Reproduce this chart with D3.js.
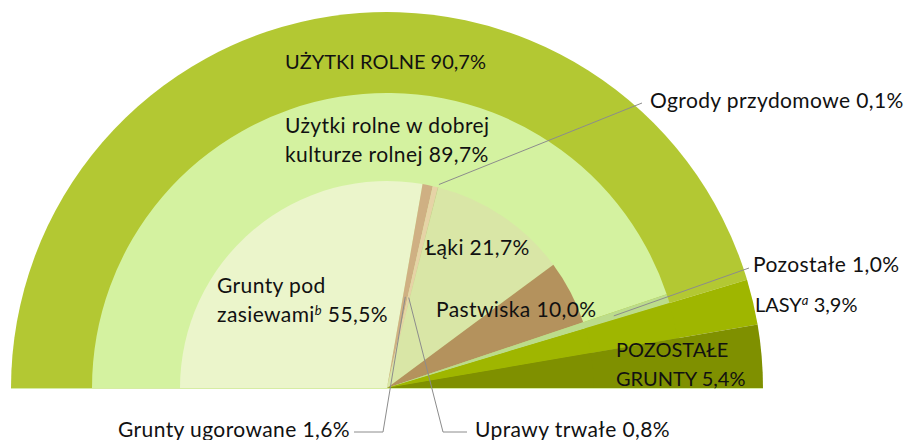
<!DOCTYPE html>
<html lang="pl">
<head>
<meta charset="UTF-8">
<title>Struktura użytkowania gruntów</title>
<script src="https://d3js.org/d3.v7.min.js"></script>
<style>
  body { margin: 0; background: #fff; }
  svg text { font-family: Lato, "Open Sans", sans-serif; font-size: 21px; letter-spacing: 0.4px; fill: #111; }
  svg text.caps { font-size: 20px; letter-spacing: 0; }
</style>
</head>
<body>
<svg width="908" height="440"></svg>
<script>
// dane - kolejne pierścienie (od lewej do prawej)
const outerNames = ["UŻYTKI ROLNE", "LASY", "POZOSTAŁE GRUNTY"];
const outerValues = [90.7, 3.9, 5.4];

const middleNames = ["Użytki rolne w dobrej kulturze rolnej", "Pozostałe", "LASY", "POZOSTAŁE GRUNTY"];
const middleValues = [89.7, 1.0, 3.9, 5.4];

const innerNames = ["Grunty pod zasiewami", "Grunty ugorowane", "Uprawy trwałe", "Ogrody przydomowe",
                    "Łąki", "Pastwiska", "Pozostałe", "LASY", "POZOSTAŁE GRUNTY"];
const innerValues = [55.5, 1.6, 0.8, 0.1, 21.7, 10.0, 1.0, 3.9, 5.4];

const colors = {
  "UŻYTKI ROLNE": "#b3c833",
  "LASY": "#9fb600",
  "POZOSTAŁE GRUNTY": "#7f9000",
  "Użytki rolne w dobrej kulturze rolnej": "#d4f2a0",
  "Pozostałe": "#bcdc8b",
  "Grunty pod zasiewami": "#ebf5cb",
  "Grunty ugorowane": "#cfb083",
  "Uprawy trwałe": "#e6d3a6",
  "Ogrody przydomowe": "#c9c48e",
  "Łąki": "#d9e6a6",
  "Pastwiska": "#b4925d"
};

const cx = 387, cy = 388;
const rings = [
  { names: outerNames, values: outerValues, r: 376 },
  { names: middleNames, values: middleValues, r: 295 },
  { names: innerNames, values: innerValues, r: 207 }
];

const svg = d3.select("svg");
const g = svg.append("g").attr("transform", `translate(${cx},${cy})`);

const pie = d3.pie().sort(null).startAngle(-Math.PI / 2).endAngle(Math.PI / 2);

const arcsByRing = rings.map(ring => {
  const arcs = pie(ring.values);
  const arc = d3.arc().innerRadius(0).outerRadius(ring.r);
  g.append("g").selectAll("path")
    .data(arcs)
    .join("path")
    .attr("d", arc)
    .attr("fill", (d, i) => colors[ring.names[i]]);
  return arcs;
});

// jasna linia u podstawy
g.append("line")
  .attr("x1", -rings[0].r).attr("x2", rings[0].r)
  .attr("y1", 0.5).attr("y2", 0.5)
  .attr("stroke", "#d6eca4").attr("stroke-width", 1);

// punkt na środku wycinka dla linii odniesienia
function anchor(d, r) {
  const a = (d.startAngle + d.endAngle) / 2;
  return [cx + r * Math.sin(a), cy - r * Math.cos(a)];
}

const inner = arcsByRing[2], middle = arcsByRing[1];
const leaders = [
  { from: anchor(inner[3], 210), pts: [[642, 103]] },
  { from: anchor(middle[1], 238), pts: [[749, 268]] },
  { from: anchor(inner[1], 93), pts: [[383, 432], [354, 432]] },
  { from: anchor(inner[2], 93), pts: [[443, 432], [467, 432]] }
];
svg.append("g").selectAll("path")
  .data(leaders)
  .join("path")
  .attr("d", d => d3.line()([d.from, ...d.pts]))
  .attr("fill", "none")
  .attr("stroke", "#8c8c8c")
  .attr("stroke-width", 1);

// etykiety
const labels = [
  { x: 285, y: 69, caps: true, lines: [["UŻYTKI ROLNE 90,7%"]] },
  { x: 285, y: 133, lines: [["Użytki rolne w dobrej"], ["kulturze rolnej 89,7%"]] },
  { x: 650, y: 108, lines: [["Ogrody przydomowe 0,1%"]] },
  { x: 425, y: 255, lines: [["Łąki 21,7%"]] },
  { x: 436, y: 317, lines: [["Pastwiska 10,0%"]] },
  { x: 217, y: 293, lines: [["Grunty pod"], ["zasiewami", "b", " 55,5%"]] },
  { x: 753, y: 272, lines: [["Pozostałe 1,0%"]] },
  { x: 755, y: 312, caps: true, lines: [["LASY", "a", " 3,9%"]] },
  { x: 616, y: 357, caps: true, lines: [["POZOSTAŁE"], ["GRUNTY 5,4%"]] },
  { x: 350, y: 437, anchor: "end", lines: [["Grunty ugorowane 1,6%"]] },
  { x: 475, y: 437, lines: [["Uprawy trwałe 0,8%"]] }
];

labels.forEach(l => {
  l.lines.forEach((parts, li) => {
    const t = svg.append("text")
      .attr("class", l.caps ? "caps" : null)
      .attr("x", l.x)
      .attr("y", l.y + li * 29)
      .attr("text-anchor", l.anchor || "start");
    parts.forEach((p, pi) => {
      if (pi === 1) {
        t.append("tspan").text(p)
          .attr("dy", -7)
          .style("font-size", "13px")
          .style("font-style", "italic");
      } else if (pi === 2) {
        t.append("tspan").attr("dy", 7).text(p);
      } else {
        t.append("tspan").text(p);
      }
    });
  });
});
</script>
</body>
</html>
